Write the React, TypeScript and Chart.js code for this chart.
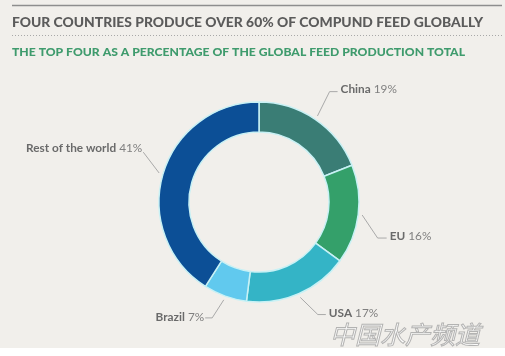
import React, { useEffect, useRef } from 'react';
import { Chart, registerables } from 'chart.js';

Chart.register(...registerables);

const categories = ['China', 'EU', 'USA', 'Brazil', 'Rest of the world'];
const shares = [19, 16, 17, 7, 41];
const sliceColors = ['#3a7d75', '#34a06a', '#34b4c6', '#61c9ee', '#0c4f96'];
const titleText = 'FOUR COUNTRIES PRODUCE OVER 60% OF COMPUND FEED GLOBALLY';
const subtitleText = 'THE TOP FOUR AS A PERCENTAGE OF THE GLOBAL FEED PRODUCTION TOTAL';
const watermarkText = '中国水产频道';

// leader-line styling per slice (degrees shift, extra radius, tail length, text dy)
const elbowShift = [-1.6, 9.7, -4.2, 2.2, 7.1];
const elbowExtra = [31, 24, 27, 25, 26];
const tailLen = [8, 9, 8, 7, 0];
const textDy = [-2, -2, -1, -1, -4];

function drawFitted(ctx: CanvasRenderingContext2D, text: string, x: number, y: number, width: number) {
  const w = ctx.measureText(text).width;
  ctx.save();
  ctx.translate(x, y);
  ctx.scale(width / w, 1);
  ctx.fillText(text, 0, 0);
  ctx.restore();
}

const decorPlugin = {
  id: 'decor',
  beforeDraw(chart: any) {
    const ctx = chart.ctx as CanvasRenderingContext2D;
    ctx.save();
    ctx.fillStyle = '#ffffff';
    ctx.fillRect(0, 0, chart.width, chart.height);
    ctx.fillStyle = '#f1efeb';
    ctx.fillRect(0, 0, chart.width, 348);
    // top rule
    ctx.strokeStyle = '#8e8e8e';
    ctx.lineWidth = 1.6;
    ctx.beginPath();
    ctx.moveTo(12, 5.5);
    ctx.lineTo(502, 5.5);
    ctx.stroke();
    // dotted rule
    ctx.strokeStyle = '#a8a8a8';
    ctx.lineWidth = 1;
    ctx.setLineDash([1, 2]);
    ctx.beginPath();
    ctx.moveTo(12, 35.5);
    ctx.lineTo(502, 35.5);
    ctx.stroke();
    ctx.setLineDash([]);
    // title
    ctx.textBaseline = 'middle';
    ctx.textAlign = 'left';
    ctx.fillStyle = '#5b5b5b';
    ctx.font = '900 12.5px Lato';
    drawFitted(ctx, titleText, 12, 22.5, 471);
    ctx.fillStyle = '#3f9b6d';
    ctx.font = '900 10.5px Lato';
    drawFitted(ctx, subtitleText, 12, 53, 453);
    ctx.restore();
  },
  afterDraw(chart: any) {
    const ctx = chart.ctx as CanvasRenderingContext2D;
    const meta = chart.getDatasetMeta(0);
    ctx.save();
    meta.data.forEach((arc: any, i: number) => {
      const { x, y, startAngle, endAngle, outerRadius } = arc.getProps(['x', 'y', 'startAngle', 'endAngle', 'outerRadius'], true);
      const mid = (startAngle + endAngle) / 2;
      const sx = x + Math.cos(mid) * (outerRadius + 4);
      const sy = y + Math.sin(mid) * (outerRadius + 4);
      const ea = mid + (elbowShift[i] * Math.PI) / 180;
      const ex = x + Math.cos(ea) * (outerRadius + elbowExtra[i]);
      const ey = y + Math.sin(ea) * (outerRadius + elbowExtra[i]);
      const right = Math.cos(mid) > 0;
      const tx = right ? ex + tailLen[i] : ex - tailLen[i];
      ctx.strokeStyle = '#a9a9a9';
      ctx.lineWidth = 1;
      ctx.beginPath();
      ctx.moveTo(sx, sy);
      ctx.lineTo(ex, ey);
      ctx.lineTo(tx, ey);
      ctx.stroke();
      const name = categories[i];
      const pct = ' ' + shares[i] + '%';
      ctx.textBaseline = 'middle';
      ctx.textAlign = 'left';
      ctx.font = 'bold 11.8px Lato';
      const nw = ctx.measureText(name).width;
      ctx.font = '11.8px Lato';
      const pw = ctx.measureText(pct).width;
      const ty = ey + textDy[i];
      const x0 = right ? tx + 3 : tx - 1 - nw - pw;
      ctx.font = 'bold 11.8px Lato';
      ctx.fillStyle = '#6a6a6a';
      ctx.fillText(name, x0, ty);
      ctx.font = '11.8px Lato';
      ctx.fillStyle = '#808080';
      ctx.fillText(pct, x0 + nw, ty);
    });
    // watermark
    ctx.font = 'italic 25px "Noto Sans CJK SC"';
    ctx.textBaseline = 'alphabetic';
    ctx.fillStyle = 'rgba(255,255,255,0.85)';
    ctx.strokeStyle = 'rgba(150,150,150,0.7)';
    ctx.lineWidth = 1;
    ctx.fillText(watermarkText, 330, 344);
    ctx.strokeText(watermarkText, 330, 344);
    ctx.restore();
  },
};

export default function App() {
  const ref = useRef<HTMLCanvasElement>(null);
  useEffect(() => {
    if (!ref.current) return;
    const chart = new Chart(ref.current, {
      type: 'doughnut',
      data: {
        labels: categories,
        datasets: [
          {
            data: shares,
            backgroundColor: sliceColors,
            borderColor: '#c8f1f5',
            borderWidth: 1.5,
            radius: 100,
          } as any,
        ],
      },
      options: {
        responsive: false,
        animation: false,
        cutout: '70%',
        layout: { padding: { top: 102, bottom: 54, left: 159, right: 146 } },
        plugins: { legend: { display: false }, tooltip: { enabled: false }, title: { display: false } },
      },
      plugins: [decorPlugin],
    });
    return () => chart.destroy();
  }, []);
  return (
    <div style={{ position: 'fixed', left: 0, top: 0, width: 505, height: 356 }}>
      <canvas ref={ref} width={505} height={356} style={{ display: 'block' }} />
    </div>
  );
}
